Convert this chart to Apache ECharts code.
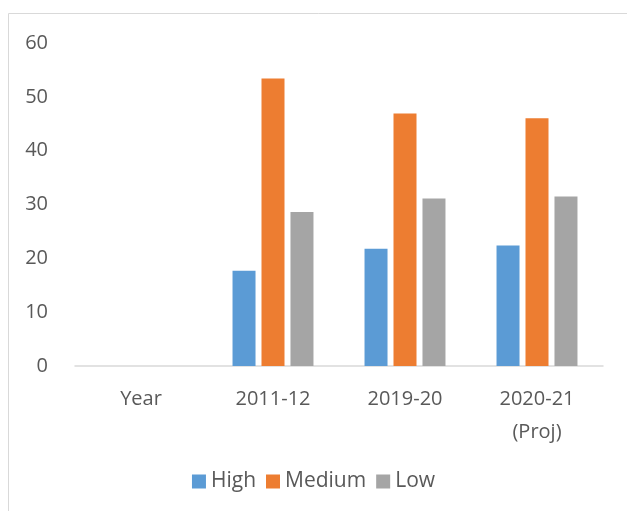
<!DOCTYPE html>
<html>
<head>
<meta charset="utf-8">
<script src="https://cdn.jsdelivr.net/npm/echarts@6/dist/echarts.min.js"></script>
<style>
html,body{margin:0;padding:0;background:#fff;}
#main{width:627px;height:511px;}
</style>
</head>
<body>
<div id="main"></div>
<script>
// data
var categories = ['Year', '2011-12', '2019-20', '2020-21\n(Proj)'];
var highVals = [null, 17.7, 21.8, 22.4];
var mediumVals = [null, 53.4, 46.9, 46.0];
var lowVals = [null, 28.6, 31.1, 31.5];
var yTicks = [0, 10, 20, 30, 40, 50, 60];

var myChart = echarts.init(document.getElementById('main'));
var txt = '#595959';
var fnt = '"Open Sans", "Noto Sans", sans-serif';

function barSeries(name, data, color) {
	return {
		name: name,
		type: 'bar',
		data: data,
		barWidth: 23,
		barGap: '26%',
		itemStyle: { color: color },
		emphasis: { disabled: true }
	};
}

var option = {
	animation: false,
	textStyle: { fontFamily: fnt },
	graphic: [{
		type: 'rect',
		shape: { x: 8.5, y: 13.5, width: 640, height: 520 },
		style: { fill: 'none', stroke: '#d9d9d9', lineWidth: 1 },
		silent: true
	}],
	grid: { left: 75, right: 24, top: 43, bottom: 145 },
	legend: {
		bottom: 14,
		left: 'center',
		itemWidth: 14,
		itemHeight: 14,
		itemGap: 10,
		icon: 'rect',
		textStyle: { color: txt, fontSize: 21, fontFamily: fnt, padding: [0, 0, 0, 0] },
		data: ['High', 'Medium', 'Low']
	},
	xAxis: {
		type: 'category',
		data: categories,
		axisLine: { lineStyle: { color: '#d9d9d9', width: 1.5 } },
		axisTick: { show: false },
		axisLabel: { color: txt, fontSize: 20, fontFamily: fnt, margin: 17, lineHeight: 33, interval: 0 }
	},
	yAxis: {
		type: 'value',
		min: yTicks[0],
		max: yTicks[yTicks.length - 1],
		interval: 10,
		splitLine: { show: false },
		axisLine: { show: false },
		axisTick: { show: false },
		axisLabel: { color: txt, fontSize: 20, fontFamily: fnt, margin: 27 }
	},
	series: [
		barSeries('High', highVals, '#5b9bd5'),
		barSeries('Medium', mediumVals, '#ed7d31'),
		barSeries('Low', lowVals, '#a5a5a5')
	]
};
myChart.setOption(option);
window.addEventListener('resize', function(){ myChart.resize(); });
</script>
</body>
</html>
